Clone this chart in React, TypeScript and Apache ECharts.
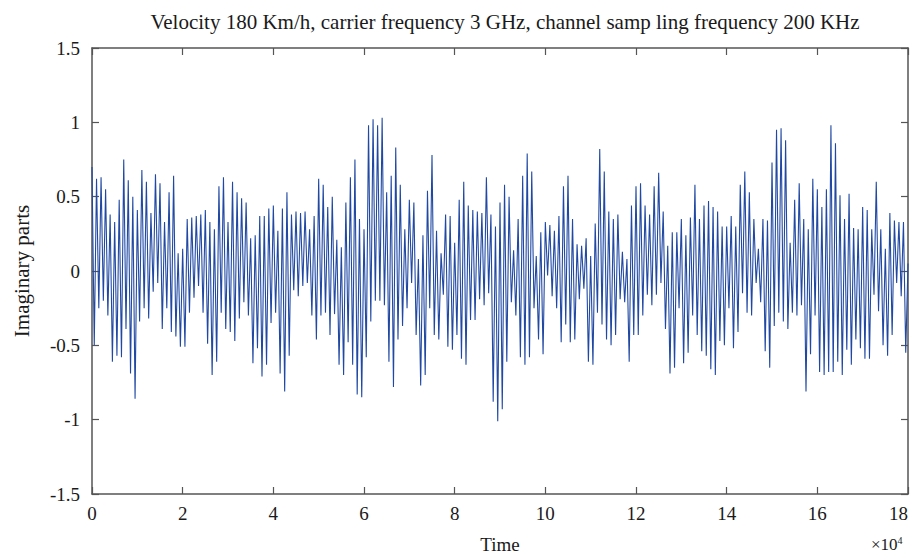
import React, { useEffect, useRef } from "react";
import * as echarts from "echarts";

// Sampling step along the time axis (in units of 10^4)
const timeStep = 0.05;

// Imaginary parts (peak / trough alternating), by 3x10^4 segments
const imag0to3 = [
  0.70, -0.50, 0.62, -0.25, 0.63, -0.20, 0.55, -0.30, 0.38, -0.61,
  0.33, -0.57, 0.48, -0.58, 0.75, -0.39, 0.61, -0.69, 0.50, -0.86,
  0.41, -0.34, 0.68, -0.25, 0.60, -0.32, 0.39, -0.14, 0.65, -0.08,
  0.59, -0.39, 0.33, -0.25, 0.53, -0.41, 0.64, -0.44, 0.12, -0.51,
  0.15, -0.51, 0.35, -0.28, 0.36, -0.18, 0.37, -0.10, 0.38, -0.28,
  0.41, -0.49, 0.33, -0.70, 0.28, -0.61, 0.57, -0.28, 0.63, -0.39,
];
const imag3to6 = [
  0.33, -0.41, 0.60, -0.47, 0.53, -0.32, 0.49, -0.21, 0.46, -0.30,
  0.22, -0.62, 0.24, -0.52, 0.37, -0.71, 0.37, -0.63, 0.42, -0.35,
  0.44, -0.28, 0.27, -0.69, 0.42, -0.81, 0.53, -0.57, 0.38, -0.13,
  0.40, -0.17, 0.39, -0.10, 0.40, -0.08, 0.28, -0.30, 0.37, -0.46,
  0.62, -0.30, 0.58, -0.28, 0.43, -0.43, 0.50, -0.29, 0.21, -0.63,
  0.16, -0.70, 0.46, -0.48, 0.63, -0.63, 0.75, -0.83, 0.35, -0.85,
];
const imag6to9 = [
  0.28, -0.58, 0.98, -0.34, 1.02, -0.20, 0.98, -0.20, 1.03, -0.23,
  0.53, -0.61, 0.64, -0.78, 0.83, -0.46, 0.58, -0.37, 0.28, -0.25,
  0.48, -0.08, 0.46, -0.43, 0.08, -0.77, 0.24, -0.70, 0.54, -0.25,
  0.78, -0.43, 0.27, -0.46, 0.12, -0.16, 0.38, -0.51, 0.37, -0.53,
  0.19, -0.43, 0.48, -0.59, 0.60, -0.63, 0.44, -0.33, 0.41, -0.33,
  0.40, -0.19, 0.39, -0.23, 0.63, -0.15, 0.38, -0.88, 0.30, -1.01,
];
const imag9to12 = [
  0.46, -0.93, 0.58, -0.61, 0.50, -0.21, 0.14, -0.30, 0.35, -0.58,
  0.64, -0.63, 0.79, -0.58, 0.67, -0.25, 0.10, -0.46, 0.26, -0.56,
  0.33, -0.03, 0.31, -0.17, 0.27, -0.25, 0.37, -0.48, 0.57, -0.36,
  0.64, -0.48, 0.35, -0.46, 0.18, -0.19, 0.17, -0.12, 0.22, -0.61,
  0.10, -0.63, 0.32, -0.28, 0.82, -0.36, 0.67, -0.46, 0.40, -0.50,
  0.35, -0.43, 0.38, -0.19, 0.13, -0.21, 0.08, -0.61, 0.44, -0.43,
];
const imag12to15 = [
  0.57, -0.43, 0.59, -0.30, 0.44, -0.16, 0.38, -0.23, 0.57, -0.16,
  0.66, -0.08, 0.40, -0.39, 0.17, -0.69, 0.26, -0.65, 0.26, -0.25,
  0.35, -0.62, 0.24, -0.55, 0.36, -0.30, 0.58, -0.43, 0.35, -0.54,
  0.44, -0.57, 0.47, -0.66, 0.43, -0.70, 0.40, -0.47, 0.30, -0.50,
  0.30, -0.25, 0.37, -0.52, 0.30, -0.41, 0.58, -0.15, 0.67, -0.28,
  0.53, -0.30, 0.35, -0.08, 0.15, -0.21, 0.35, -0.54, 0.34, -0.65,
];
const imag15to18 = [
  0.73, -0.37, 0.95, -0.28, 0.96, -0.34, 0.88, -0.39, 0.19, -0.28,
  0.48, -0.30, 0.59, -0.23, 0.35, -0.81, 0.28, -0.56, 0.62, -0.30,
  0.55, -0.68, 0.43, -0.70, 0.55, -0.68, 0.98, -0.68, 0.86, -0.61,
  0.51, -0.70, 0.35, -0.53, 0.52, -0.63, 0.29, -0.46, 0.28, -0.52,
  0.43, -0.59, 0.41, -0.59, 0.28, -0.16, 0.60, -0.27, 0.28, -0.50,
  0.15, -0.57, 0.39, -0.43, 0.34, -0.08, 0.33, -0.17, 0.33, -0.55,
  0.05,
];

const xTicks = [0, 2, 4, 6, 8, 10, 12, 14, 16, 18];
const yTicks = [-1.5, -1, -0.5, 0, 0.5, 1, 1.5];

const titleText =
  "Velocity 180 Km/h, carrier frequency 3 GHz, channel samp ling frequency 200 KHz";

export default function App() {
  const ref = useRef<HTMLDivElement>(null);

  useEffect(() => {
    if (!ref.current) return;
    const chart = echarts.init(ref.current, null, { renderer: "svg" });
    const values = [
      ...imag0to3,
      ...imag3to6,
      ...imag6to9,
      ...imag9to12,
      ...imag12to15,
      ...imag15to18,
    ];
    const data = values.map((v, i) => [+(i * timeStep).toFixed(3), v]);
    const font = "'Liberation Serif', 'Times New Roman', serif";
    const axisColor = "#555";
    const textColor = "#1a1a1a";
    const frameAxis = {
      axisLine: { show: true, onZero: false, lineStyle: { color: axisColor, width: 1.5 } },
      axisTick: { show: true, inside: true, length: 7, lineStyle: { color: axisColor, width: 1.2 } },
      splitLine: { show: false },
    };
    chart.setOption({
      animation: false,
      backgroundColor: "#fff",
      textStyle: { fontFamily: font },
      title: {
        text: titleText,
        left: 500,
        textAlign: "center",
        top: 6,
        textStyle: { fontFamily: font, fontSize: 21, fontWeight: "normal", color: textColor },
      },
      grid: {
        left: 92,
        right: 7,
        top: 48,
        bottom: 61,
        containLabel: false,
        outerBoundsMode: "none",
      },
      xAxis: [
        {
          type: "value",
          min: xTicks[0],
          max: xTicks[xTicks.length - 1],
          interval: 2,
          name: "Time",
          nameLocation: "middle",
          nameGap: 41,
          nameTextStyle: { fontFamily: font, fontSize: 19, color: textColor },
          ...frameAxis,
          axisLabel: { fontFamily: font, fontSize: 19, color: textColor, margin: 10, alignMaxLabel: "right" },
        },
        {
          type: "value",
          position: "top",
          min: xTicks[0],
          max: xTicks[xTicks.length - 1],
          interval: 2,
          ...frameAxis,
          axisLabel: { show: false },
        },
      ],
      yAxis: [
        {
          type: "value",
          min: yTicks[0],
          max: yTicks[yTicks.length - 1],
          interval: 0.5,
          name: "Imaginary parts",
          nameLocation: "middle",
          nameGap: 60,
          nameRotate: 90,
          nameTextStyle: { fontFamily: font, fontSize: 21, color: textColor },
          ...frameAxis,
          axisLabel: { fontFamily: font, fontSize: 19, color: textColor, margin: 12 },
        },
        {
          type: "value",
          position: "right",
          min: yTicks[0],
          max: yTicks[yTicks.length - 1],
          interval: 0.5,
          ...frameAxis,
          axisLabel: { show: false },
        },
      ],
      graphic: [
        {
          type: "text",
          left: 871,
          top: 535,
          style: {
            text: "×10{sup|4}",
            fontFamily: font,
            fontSize: 17,
            fill: textColor,
            rich: {
              sup: { fontSize: 10, verticalAlign: "top", padding: [0, 0, 8, 0], fontFamily: font, fill: textColor },
            },
          },
        },
      ],
      series: [
        {
          type: "line",
          data,
          xAxisIndex: 0,
          yAxisIndex: 0,
          showSymbol: false,
          symbol: "none",
          lineStyle: { color: "#2149a3", width: 1.1 },
          silent: true,
        },
      ],
    });
    return () => chart.dispose();
  }, []);

  return (
    <div
      ref={ref}
      style={{ position: "fixed", left: 0, top: 0, width: 915, height: 555 }}
    />
  );
}
